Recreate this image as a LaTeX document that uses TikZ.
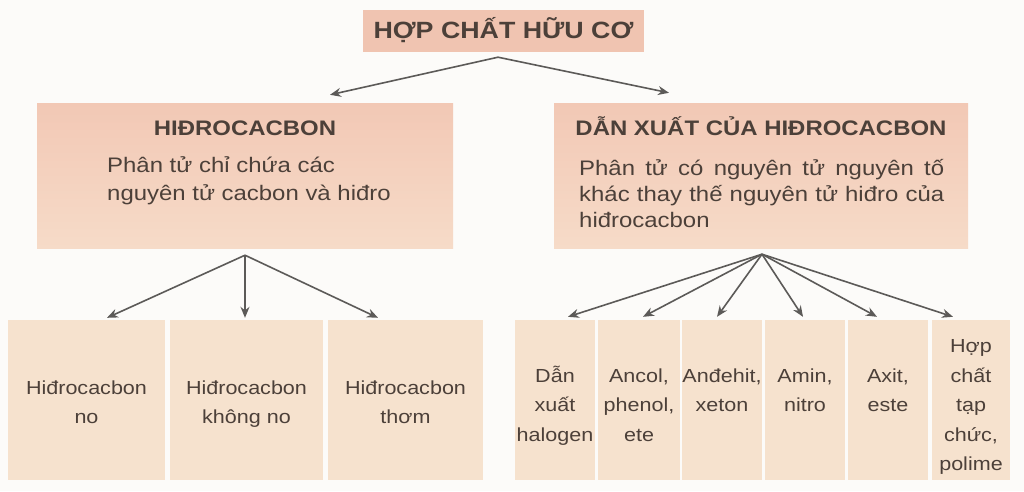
\documentclass[tikz,border=0pt]{standalone}
\usepackage{fontspec}
\setmainfont[FakeStretch=1.14]{Liberation Sans}
\usetikzlibrary{arrows.meta}
\definecolor{bgc}{HTML}{FCFBF9}
\definecolor{titlec}{HTML}{F0C4B1}
\definecolor{midtop}{HTML}{F2C8B5}
\definecolor{midbot}{HTML}{F6DBC8}
\definecolor{lowc}{HTML}{F6E2CE}
\definecolor{txtc}{HTML}{4C4039}
\definecolor{arrc}{HTML}{5C5A58}
\newcommand{\tallstrut}{\rule{0pt}{27pt}}
\newcommand{\topstrut}{\rule{0pt}{32pt}}
\begin{document}
\begin{tikzpicture}[x=1pt,y=-1pt,
  arr/.style={draw=arrc,line width=1.6pt,-{Stealth[length=11pt,width=9pt]}},
  titlebox/.style={fill=titlec,inner sep=0pt,minimum width=281pt,minimum height=42pt,
    text=txtc,font=\bfseries\fontsize{23.5}{28}\selectfont,text height=17pt,text depth=3pt},
  midbox/.style={top color=midtop,bottom color=midbot,draw=none,inner sep=0pt,minimum height=145pt},
  headtext/.style={anchor=base,inner sep=0pt,text=txtc,font=\bfseries\fontsize{21}{25}\selectfont},
  lowbox/.style={fill=lowc,inner sep=0pt,minimum height=160pt,align=center,text=txtc,
    font=\fontsize{18.9}{29.5}\selectfont}
]
\useasboundingbox[fill=bgc] (0,0) rectangle (1024,491);

% title
\node[titlebox] (title) at (503.5,31) {HỢP CHẤT HỮU CƠ};

% middle boxes
\node[midbox,minimum width=416pt] (hc) at (245,175.5) {};
\node[midbox,minimum width=414pt] (dx) at (761,175.5) {};
\node[headtext] (hcT) at (245,135) {HIĐROCACBON};
\node[headtext] (dxT) at (761,135) {DẪN XUẤT CỦA HIĐROCACBON};
\node[anchor=north west,align=left,inner sep=0pt,text=txtc,font=\fontsize{21}{28}\selectfont]
  (hcB) at (107,152.4) {\strut Phân tử chỉ chứa các\\nguyên tử cacbon và hiđro};
\node[anchor=north west,inner sep=0pt,text=txtc,font=\fontsize{21}{26}\selectfont]
  (dxB) at (579,157.5) {\parbox{365pt}{\strut Phân tử có nguyên tử nguyên tố\linebreak
   khác thay thế nguyên tử hiđro của\linebreak hiđrocacbon}};

% lower left boxes
\node[lowbox,minimum width=157pt] (l1) at (86.5,400) {\tallstrut Hiđrocacbon\\\strut no};
\node[lowbox,minimum width=153pt] (l2) at (246.5,400) {\tallstrut Hiđrocacbon\\\strut không no};
\node[lowbox,minimum width=155pt] (l3) at (405.5,400) {\tallstrut Hiđrocacbon\\\strut thơm};

% lower right boxes
\node[lowbox,minimum width=80pt] (r1) at (555,400) {\topstrut Dẫn\\\strut xuất\\\strut halogen};
\node[lowbox,minimum width=82pt] (r2) at (639,400) {\topstrut Ancol,\\\strut phenol,\\\strut ete};
\node[lowbox,minimum width=80pt] (r3) at (722,400) {\topstrut Anđehit,\\\strut xeton\\\strut};
\node[lowbox,minimum width=80pt] (r4) at (805,400) {\topstrut Amin,\\\strut nitro\\\strut};
\node[lowbox,minimum width=80pt] (r5) at (888,400) {\topstrut Axit,\\\strut este\\\strut};
\node[lowbox,minimum width=78pt] (r6) at (971,400) {\topstrut Hợp\\\strut chất\\\strut tạp\\\strut chức,\\\strut polime};

% arrows from title
\draw[arr] ([xshift=-5.5pt,yshift=-5pt]title.south) -- ([xshift=85pt,yshift=8pt]hc.north);
\draw[arr] ([xshift=-5.5pt,yshift=-5pt]title.south) -- ([xshift=-92pt,yshift=10pt]dx.north);

% arrows from hidrocacbon
\draw[arr] ([yshift=-7pt]hc.south) -- ([xshift=20.5pt,yshift=2pt]l1.north);
\draw[arr] ([yshift=-7pt]hc.south) -- ([xshift=-1.5pt,yshift=2pt]l2.north);
\draw[arr] ([yshift=-7pt]hc.south) -- ([xshift=-27.5pt,yshift=2pt]l3.north);

% arrows from dan xuat
\draw[arr] ([xshift=1pt,yshift=-6pt]dx.south) -- ([xshift=13pt,yshift=3pt]r1.north);
\draw[arr] ([xshift=1pt,yshift=-6pt]dx.south) -- ([xshift=4pt,yshift=3pt]r2.north);
\draw[arr] ([xshift=1pt,yshift=-6pt]dx.south) -- ([xshift=-5pt,yshift=3pt]r3.north);
\draw[arr] ([xshift=1pt,yshift=-6pt]dx.south) -- ([xshift=-2pt,yshift=3pt]r4.north);
\draw[arr] ([xshift=1pt,yshift=-6pt]dx.south) -- ([xshift=-11pt,yshift=3pt]r5.north);
\draw[arr] ([xshift=1pt,yshift=-6pt]dx.south) -- ([xshift=-18pt,yshift=3pt]r6.north);
\end{tikzpicture}
\end{document}
